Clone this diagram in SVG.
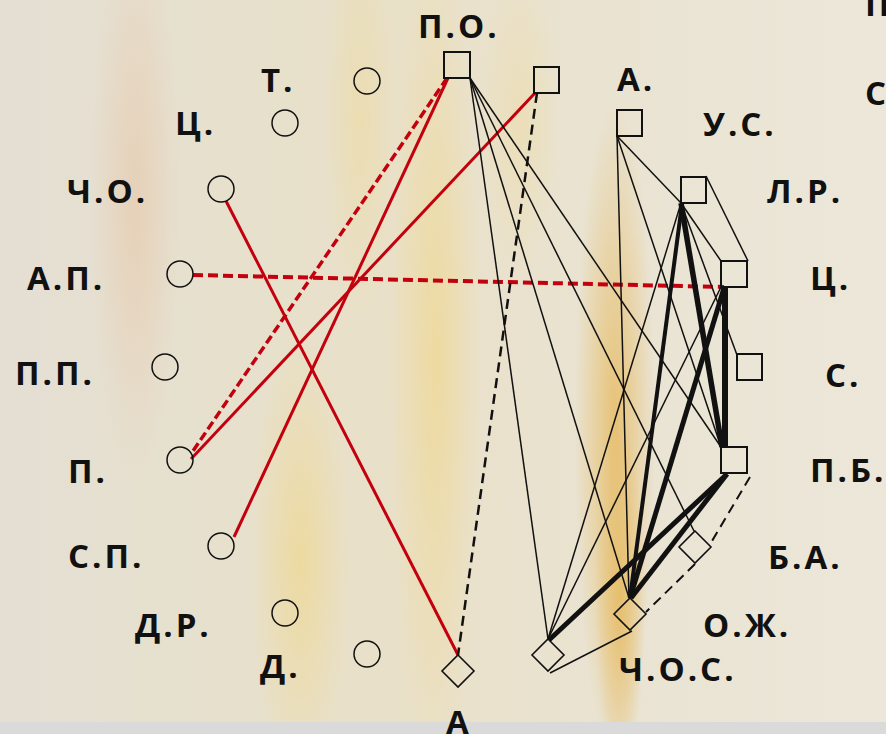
<svg xmlns="http://www.w3.org/2000/svg" width="886" height="734" viewBox="0 0 886 734">
<defs>
<radialGradient id="gPink">
<stop offset="0" stop-color="#e6c6a8" stop-opacity="0.6"/>
<stop offset="1" stop-color="#e6c6a8" stop-opacity="0"/>
</radialGradient>
<radialGradient id="gYel">
<stop offset="0" stop-color="#f0d78a" stop-opacity="0.65"/>
<stop offset="1" stop-color="#f0d78a" stop-opacity="0"/>
</radialGradient>
<radialGradient id="gOr">
<stop offset="0" stop-color="#e6b95e" stop-opacity="0.8"/>
<stop offset="1" stop-color="#e6b95e" stop-opacity="0"/>
</radialGradient>
<linearGradient id="gBase" x1="0" y1="0" x2="1" y2="0">
<stop offset="0" stop-color="#e4dfd3"/>
<stop offset="0.15" stop-color="#e6e0d0"/>
<stop offset="0.45" stop-color="#e9e0c8"/>
<stop offset="0.75" stop-color="#eae4d4"/>
<stop offset="1" stop-color="#ece7d9"/>
</linearGradient>
<style>
.lbl{font-family:"Open Sans","Liberation Sans",sans-serif;font-weight:700;font-size:33px;letter-spacing:3px;fill:#111}
.circ{fill:none;stroke:#111;stroke-width:1.5}
.sq{fill:none;stroke:#111;stroke-width:2}
.dia{fill:none;stroke:#111;stroke-width:1.6}
.red{stroke:#c3000e;stroke-width:3;fill:none}
.redd{stroke:#c3000e;stroke-width:3.5;stroke-dasharray:9 4;fill:none}
.thin{stroke:#111;stroke-width:1.5;fill:none}
.thick{stroke:#111;stroke-width:5;fill:none}
.dash{stroke:#111;stroke-width:2.5;stroke-dasharray:10 6;fill:none}
</style>
</defs>
<g id="background">
<rect x="0" y="0" width="886" height="734" fill="url(#gBase)"/>
<ellipse cx="135" cy="200" rx="45" ry="280" fill="url(#gPink)"/>
<ellipse cx="300" cy="560" rx="50" ry="230" fill="url(#gYel)"/>
<ellipse cx="435" cy="360" rx="45" ry="420" fill="url(#gYel)"/>
<ellipse cx="360" cy="120" rx="35" ry="200" fill="url(#gYel)" opacity="0.6"/>
<ellipse cx="615" cy="430" rx="40" ry="330" fill="url(#gOr)"/>
<ellipse cx="620" cy="600" rx="25" ry="180" fill="url(#gOr)"/>
<ellipse cx="520" cy="120" rx="40" ry="160" fill="url(#gYel)" opacity="0.5"/>
<rect x="0" y="722" width="886" height="12" fill="#dadada"/>
</g>
<g id="connectors">
<line class="redd" x1="447" y1="78" x2="191" y2="454"/>
<line class="red" x1="448" y1="78" x2="234" y2="537"/>
<line class="red" x1="535" y1="93" x2="191" y2="459"/>
<line class="red" x1="226" y1="201" x2="458" y2="655"/>
<line class="redd" style="stroke-width:4;stroke-dasharray:10 5" x1="193" y1="275" x2="724" y2="287"/>
<line class="dash" x1="537" y1="93" x2="458" y2="655"/>
<line class="dash" style="stroke-width:2" x1="750" y1="477" x2="712" y2="541"/>
<line class="dash" style="stroke-width:2" x1="695" y1="564" x2="646" y2="612"/>
<line class="thin" x1="470" y1="78" x2="548" y2="639"/>
<line class="thin" x1="470" y1="78" x2="629" y2="598"/>
<line class="thin" x1="470" y1="78" x2="694" y2="531"/>
<line class="thin" x1="470" y1="78" x2="721" y2="447"/>
<line class="thin" x1="617" y1="136" x2="681" y2="203"/>
<line class="thin" x1="617" y1="136" x2="721" y2="447"/>
<line class="thin" x1="617" y1="136" x2="629" y2="598"/>
<line class="thin" x1="706" y1="176" x2="748" y2="261"/>
<line class="thin" x1="681" y1="203" x2="721" y2="261"/>
<line class="thin" x1="681" y1="203" x2="737" y2="355"/>
<line class="thin" x1="681" y1="203" x2="548" y2="639"/>
<line class="thin" x1="721" y1="287" x2="548" y2="639"/>
<line class="thin" x1="550" y1="673" x2="632" y2="631"/>
<line class="thick" style="stroke-width:4" x1="682" y1="204" x2="630" y2="598"/>
<line class="thick" style="stroke-width:5.5" x1="681" y1="203" x2="722" y2="447"/>
<line class="thick" style="stroke-width:6" x1="725" y1="286" x2="725" y2="447"/>
<line class="thick" x1="724" y1="288" x2="630" y2="598"/>
<line class="thick" x1="727" y1="474" x2="549" y2="640"/>
<line class="thick" x1="727" y1="474" x2="631" y2="598"/>
</g>
<g id="n-T"><circle class="circ" cx="367" cy="81" r="13"/><text class="lbl" x="261" y="92">Т.</text></g>
<g id="n-C1"><circle class="circ" cx="285" cy="123" r="13"/><text class="lbl" x="175" y="135">Ц.</text></g>
<g id="n-CHO"><circle class="circ" cx="221" cy="189" r="13"/><text class="lbl" x="67" y="203">Ч.О.</text></g>
<g id="n-AP"><circle class="circ" cx="180" cy="274" r="13"/><text class="lbl" x="27" y="290">А.П.</text></g>
<g id="n-PP"><circle class="circ" cx="165" cy="367" r="13"/><text class="lbl" x="15" y="385">П.П.</text></g>
<g id="n-P"><circle class="circ" cx="180" cy="460" r="13"/><text class="lbl" x="68" y="483">П.</text></g>
<g id="n-SP"><circle class="circ" cx="221" cy="546" r="13"/><text class="lbl" x="68" y="568">С.П.</text></g>
<g id="n-DR"><circle class="circ" cx="285" cy="613" r="13"/><text class="lbl" x="135" y="637">Д.Р.</text></g>
<g id="n-D"><circle class="circ" cx="367" cy="654" r="13"/><text class="lbl" x="260" y="678">Д.</text></g>
<g id="n-PO"><rect class="sq" x="444" y="52" width="26" height="26"/><text class="lbl" x="418" y="38">П.О.</text></g>
<g id="n-sq2"><rect class="sq" x="534" y="67" width="25" height="26"/></g>
<g id="n-A1"><rect class="sq" x="617" y="110" width="25" height="26"/><text class="lbl" x="617" y="91">А.</text></g>
<g id="n-US"><text class="lbl" x="703" y="136">У.С.</text></g>
<g id="n-LR"><rect class="sq" x="681" y="177" width="25" height="26"/><text class="lbl" x="767" y="203">Л.Р.</text></g>
<g id="n-C2"><rect class="sq" x="721" y="261" width="26" height="26"/><text class="lbl" x="810" y="290">Ц.</text></g>
<g id="n-S"><rect class="sq" x="737" y="354" width="25" height="26"/><text class="lbl" x="825" y="387">С.</text></g>
<g id="n-PB"><rect class="sq" x="721" y="447" width="26" height="26"/><text class="lbl" x="810" y="482">П.Б.</text></g>
<g id="n-BA"><polygon class="dia" points="695,531 711,547 695,563 679,547"/><text class="lbl" x="768" y="569">Б.А.</text></g>
<g id="n-OZH"><polygon class="dia" points="630,598 646,614 630,630 614,614"/><text class="lbl" x="703" y="637">О.Ж.</text></g>
<g id="n-CHOS"><polygon class="dia" points="548,639 564,655 548,671 532,655"/><text class="lbl" x="619" y="681">Ч.О.С.</text></g>
<g id="n-A2"><polygon class="dia" points="458,655 474,671 458,687 442,671"/><text class="lbl" x="446" y="734">А</text></g>
<g id="n-edge"><text class="lbl" x="865" y="16">П</text><text class="lbl" x="865" y="105">С</text></g>
</svg>
